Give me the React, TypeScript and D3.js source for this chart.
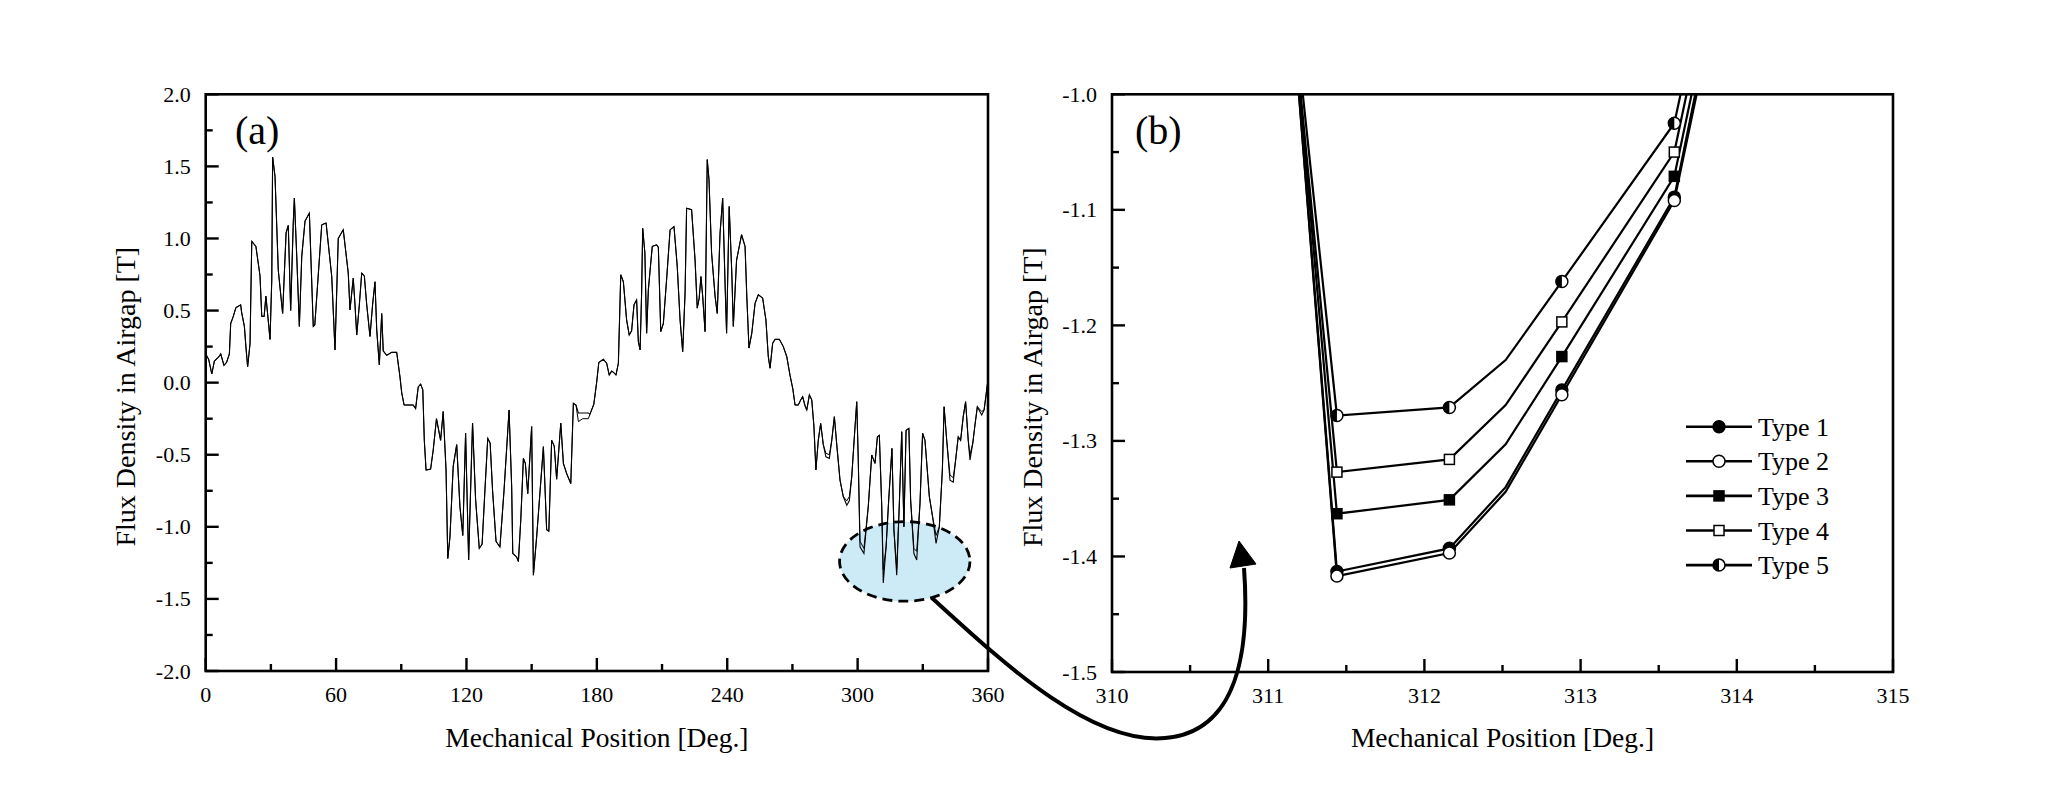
import React from 'react';
import * as d3 from 'd3';

// ── Data: panel (a) full-period waveform (all types overlap) ────────────────
const waveDeg = [
  0, 1.4, 2.8, 4.0, 6.1, 6.9, 8.4, 9.6, 10.9, 11.5, 12.7, 13.9, 16.1, 16.5, 17.8, 18.5, 19.3, 20.4,
  21.2, 23.1, 25.0, 25.8, 26.9, 27.7, 28.6, 29.6, 30.4, 30.8, 31.9, 33.4, 35.4, 37.0, 38.0, 39.1,
  40.3, 40.8, 41.9, 43.1, 44.2, 45.7, 47.7, 49.5, 50.2, 53.4, 55.4, 58.0, 59.5, 61.0, 63.3, 65.6,
  66.4, 67.9, 68.7, 69.5, 70.7, 71.8, 73.0, 74.1, 75.6, 76.8, 77.9, 78.7, 79.9, 81.0, 81.7, 83.3,
  85.6, 87.9, 89.4, 90.2, 91.3, 95.5, 96.6, 97.8, 98.9, 99.9, 100.6, 101.4, 103.5, 104.7, 106.2,
  108.1, 109.3, 110.6, 111.4, 112.4, 113.9, 115.5, 117.0, 118.3, 119.6, 120.4, 121.0, 121.9, 122.8,
  124.2, 125.9, 127.2, 128.5, 129.8, 130.9, 132.0, 133.6, 135.4, 137.3, 139.6, 140.8, 141.3, 143.1,
  143.9, 145.0, 146.2, 147.1, 148.2, 149.2, 150.0, 150.8, 152.3, 155.4, 156.9, 157.9, 159.2, 160.4,
  161.5, 163.4, 164.6, 166.1, 168.0, 169.2, 170.4, 171.5, 173.5, 176.1, 176.8, 178.6, 179.9, 180.9,
  183.0, 184.5, 185.7, 186.8, 187.8, 188.8, 189.9, 191.0, 192.2, 193.7, 194.9, 196.0, 197.1, 198.3,
  199.1, 199.9, 200.6, 201.1, 202.1, 202.9, 203.7, 205.5, 207.5, 208.3, 209.4, 210.6, 212.2, 213.7,
  215.5, 217.0, 218.3, 219.5, 220.6, 221.3, 223.6, 225.2, 226.2, 227.1, 227.9, 228.7, 229.8, 230.8,
  231.6, 232.8, 234.4, 235.4, 236.7, 237.9, 239.0, 239.7, 240.9, 242.1, 242.8, 244.3, 246.6, 248.2,
  249.0, 250.0, 251.3, 252.8, 254.3, 256.3, 257.8, 258.9, 259.7, 260.9, 262.0, 264.0, 265.8, 267.4,
  268.9, 270.2, 271.2, 272.7, 273.8, 274.7, 275.8, 276.6, 277.8, 278.9, 279.9, 280.8, 281.9, 283.0,
  284.2, 285.4, 287.0, 288.1, 289.3, 290.4, 291.9, 293.4, 295.0, 296.2, 297.3, 298.5, 299.6, 300.3,
  301.1, 302.9, 304.9, 306.5, 308.0, 309.1, 310.0, 311.1, 311.8, 313.1, 314.3, 315.8, 316.7, 318.0,
  319.2, 320.3, 321.3, 322.3, 323.6, 324.4, 325.9, 327.2, 328.7, 329.9, 331.0, 333.0, 334.5, 336.1,
  337.6, 339.0, 339.8, 341.0, 342.5, 344.0, 345.1, 346.3, 347.4, 348.6, 349.7, 350.9, 351.7, 353.0,
  354.0, 355.1, 357.1, 358.2, 359.4, 360.0,
];
const waveVal = [
  0.20, 0.16, 0.06, 0.15, 0.18, 0.20, 0.12, 0.14, 0.20, 0.41, 0.46, 0.52, 0.54, 0.49, 0.39, 0.25, 0.11, 0.27,
  0.98, 0.945, 0.74, 0.46, 0.46, 0.60, 0.46, 0.30, 0.71, 1.565, 1.43, 0.78, 0.48, 1.04, 1.09, 0.50,
  1.11, 1.28, 0.875, 0.39, 0.875, 1.12, 1.176, 0.39, 0.40, 1.095, 1.107, 0.736, 0.227, 1.0, 1.06, 0.76,
  0.505, 0.725, 0.54, 0.33, 0.54, 0.76, 0.74, 0.54, 0.32, 0.54, 0.70, 0.366, 0.123, 0.48, 0.22, 0.19,
  0.21, 0.21, 0.04, -0.07, -0.155, -0.155, -0.18, -0.03, -0.01, -0.05, -0.40, -0.606, -0.60, -0.467, -0.25,
  -0.40, -0.20, -0.606, -1.22, -1.07, -0.58, -0.43, -0.86, -1.06, -0.35, -0.86, -1.23, -0.745, -0.28,
  -0.81, -1.15, -1.12, -0.745, -0.386, -0.42, -0.745, -1.10, -1.14, -0.745, -0.19, -0.72, -1.185, -1.21,
  -1.24, -0.95, -0.525, -0.56, -0.77, -0.51, -0.305, -1.335, -1.07, -0.444, -1.02, -1.03, -0.40, -0.44,
  -0.67, -0.28, -0.56, -0.63, -0.70, -0.143, -0.155, -0.21, -0.21, -0.21, -0.22, -0.15, 0.0, 0.14,
  0.162, 0.135, 0.053, 0.08, 0.07, 0.053, 0.135, 0.748, 0.70, 0.435, 0.33, 0.36, 0.54, 0.574,
  0.285, 0.227, 0.62, 1.07, 0.90, 0.343, 0.644, 0.945, 0.956, 0.94, 0.354, 0.41, 0.736, 1.06,
  1.083, 0.805, 0.435, 0.215, 0.62, 1.21, 1.20, 0.85, 0.517, 0.586, 0.736, 0.60, 0.354, 1.547,
  1.41, 0.90, 0.60, 0.48, 1.037, 1.28, 0.69, 0.343, 1.222, 0.76, 0.39, 0.85, 1.026, 0.945,
  0.60, 0.24, 0.343, 0.55, 0.61, 0.586, 0.435, 0.18, 0.10, 0.273, 0.30, 0.30, 0.25, 0.18,
  0.05, -0.045, -0.155, -0.155, -0.12, -0.097, -0.16, -0.19, -0.085, -0.12, -0.305, -0.606, -0.40, -0.283,
  -0.43, -0.514, -0.525, -0.40, -0.236, -0.43, -0.676, -0.79, -0.85, -0.82, -0.653, -0.375, -0.132, -0.537,
  -1.139, -1.185, -0.86, -0.502, -0.56, -0.375, -0.365, -0.86, -1.39, -1.14, -0.815, -0.456, -1.02, -1.335,
  -0.84, -0.34, -1.0, -0.33, -0.317, -0.815, -1.185, -1.23, -0.84, -0.35, -0.40, -0.79, -0.93, -1.115,
  -1.0, -0.606, -0.167, -0.40, -0.676, -0.69, -0.537, -0.375, -0.40, -0.236, -0.132, -0.40, -0.537, -0.42,
  -0.294, -0.167, -0.224, -0.19, -0.05, 0.02,
];
// places where the other types split visibly from the main trace
const altDeg = [171.5, 173.5, 176.1, 285.4, 287.0, 295.0, 296.2, 301.1, 302.9, 311.8, 318.0, 325.9, 327.2, 336.1, 342.5, 344.0, 351.7, 357.1];
const altVal = [-0.27, -0.25, -0.25, -0.49, -0.50, -0.82, -0.79, -1.10, -1.15, -1.30, -1.29, -1.15, -1.17, -1.06, -0.64, -0.66, -0.50, -0.20];

// ── Data: panel (b) zoom ────────────────────────────────────────────────────
const zoomDeg = [311.08, 311.44, 312.16, 312.52, 312.88, 313.60, 313.96];
const markerIdx = [1, 2, 4, 5];
const type1 = [-0.80, -1.413, -1.393, -1.340, -1.256, -1.089, -0.85];
const type2 = [-0.80, -1.417, -1.397, -1.344, -1.260, -1.092, -0.86];
const type3 = [-0.81, -1.363, -1.351, -1.303, -1.227, -1.071, -0.84];
const type4 = [-0.82, -1.327, -1.316, -1.269, -1.197, -1.050, -0.82];
const type5 = [-0.82, -1.278, -1.271, -1.230, -1.162, -1.025, -0.80];
const typeNames = ['Type 1', 'Type 2', 'Type 3', 'Type 4', 'Type 5'];
const typeMarkers = ['filledCircle', 'openCircle', 'filledSquare', 'openSquare', 'halfCircle'];

// ── Ticks ───────────────────────────────────────────────────────────────────
const aXMajor = [0, 60, 120, 180, 240, 300, 360];
const aXMinor = [30, 90, 150, 210, 270, 330];
const aYMajor = [-2.0, -1.5, -1.0, -0.5, 0.0, 0.5, 1.0, 1.5, 2.0];
const aYMinor = [-1.75, -1.25, -0.75, -0.25, 0.25, 0.75, 1.25, 1.75];
const bXMajor = [310, 311, 312, 313, 314, 315];
const bXMinor = [310.5, 311.5, 312.5, 313.5, 314.5];
const bYMajor = [-1.5, -1.4, -1.3, -1.2, -1.1, -1.0];
const bYMinor = [-1.45, -1.35, -1.25, -1.15, -1.05];

const FONT = "'Liberation Serif', 'Times New Roman', serif";
const W = 2053, H = 807;

const PA = { left: 205.7, right: 988, top: 94.3, bottom: 671 };
const PB = { left: 1112, right: 1893, top: 94.3, bottom: 672 };

const xA = d3.scaleLinear().domain([0, 360]).range([PA.left, PA.right]);
const yA = d3.scaleLinear().domain([-2, 2]).range([PA.bottom, PA.top]);
const xB = d3.scaleLinear().domain([310, 315]).range([PB.left, PB.right]);
const yB = d3.scaleLinear().domain([-1.5, -1.0]).range([PB.bottom, PB.top]);

function Marker({ kind, cx, cy }: { kind: string; cx: number; cy: number }) {
  const r = 6, s = 10;
  switch (kind) {
    case 'filledCircle':
      return <circle cx={cx} cy={cy} r={r} fill="#000" stroke="#000" strokeWidth={1.5} />;
    case 'openCircle':
      return <circle cx={cx} cy={cy} r={r} fill="#fff" stroke="#000" strokeWidth={1.5} />;
    case 'filledSquare':
      return <rect x={cx - s / 2} y={cy - s / 2} width={s} height={s} fill="#000" stroke="#000" strokeWidth={1.5} />;
    case 'openSquare':
      return <rect x={cx - s / 2} y={cy - s / 2} width={s} height={s} fill="#fff" stroke="#000" strokeWidth={1.5} />;
    default:
      return (
        <g>
          <circle cx={cx} cy={cy} r={r} fill="#fff" stroke="#000" strokeWidth={1.5} />
          <path d={`M${cx},${cy - r} A${r},${r} 0 0 0 ${cx},${cy + r} Z`} fill="#000" />
        </g>
      );
  }
}

function Frame({ p, xs, ys, xMajor, xMinor, yMajor, yMinor, fmtX, fmtY }: any) {
  return (
    <g>
      <rect x={p.left} y={p.top} width={p.right - p.left} height={p.bottom - p.top} fill="none" stroke="#000" strokeWidth={2.6} />
      {xMajor.map((t: number) => (
        <g key={'xm' + t}>
          <line x1={xs(t)} x2={xs(t)} y1={p.bottom} y2={p.bottom - 13} stroke="#000" strokeWidth={2.4} />
          <text x={xs(t)} y={p.bottom + 31} textAnchor="middle" fontSize={22} fontFamily={FONT}>{fmtX(t)}</text>
        </g>
      ))}
      {xMinor.map((t: number) => (
        <line key={'xn' + t} x1={xs(t)} x2={xs(t)} y1={p.bottom} y2={p.bottom - 7} stroke="#000" strokeWidth={2.4} />
      ))}
      {yMajor.map((t: number) => (
        <g key={'ym' + t}>
          <line x1={p.left} x2={p.left + 13} y1={ys(t)} y2={ys(t)} stroke="#000" strokeWidth={2.4} />
          <text x={p.left - 15} y={ys(t) + 7.5} textAnchor="end" fontSize={22} fontFamily={FONT}>{fmtY(t)}</text>
        </g>
      ))}
      {yMinor.map((t: number) => (
        <line key={'yn' + t} x1={p.left} x2={p.left + 7} y1={ys(t)} y2={ys(t)} stroke="#000" strokeWidth={2.4} />
      ))}
    </g>
  );
}

export default function App() {
  const baseA = waveDeg.map((d, i) => [d, waveVal[i]] as [number, number]);
  const altA = waveDeg.map((d, i) => {
    const k = altDeg.indexOf(d);
    return [d, k >= 0 ? altVal[k] : waveVal[i]] as [number, number];
  });
  const lineA = d3.line<[number, number]>().x(d => xA(d[0])).y(d => yA(d[1]));

  const typeVals = [type1, type2, type3, type4, type5];
  const lineB = d3.line<number>().x((_, i) => xB(zoomDeg[i])).y(v => yB(v));

  const fmt1 = d3.format('.1f');
  const fmtY = (t: number) => fmt1(t).replace('−', '-');

  // annotation ellipse in panel (a) data space
  const ellCx = xA(321.7), ellCy = yA(-1.24);
  const ellRx = xA(30) - xA(0), ellRy = yA(0) - yA(0.276);

  // legend layout
  const legX1 = 1686, legX2 = 1752, legRow0 = 426.7, legStep = 34.6;

  return (
    <svg width={W} height={H} style={{ position: 'absolute', left: 0, top: 0, background: '#fff' }}>
      <defs>
        <clipPath id="clipB">
          <rect x={PB.left} y={PB.top} width={PB.right - PB.left} height={PB.bottom - PB.top} />
        </clipPath>
      </defs>
      <rect width={W} height={H} fill="#fff" />

      {/* ── Panel (a) ── */}
      <ellipse cx={ellCx} cy={ellCy} rx={ellRx} ry={ellRy} fill="#cdebf7" />
      <path d={lineA(altA) || ''} fill="none" stroke="#000" strokeWidth={1} />
      <path d={lineA(baseA) || ''} fill="none" stroke="#000" strokeWidth={1.1} />
      <ellipse cx={ellCx} cy={ellCy} rx={ellRx} ry={ellRy} fill="none" stroke="#000" strokeWidth={2.8} strokeDasharray="10 6" />
      <Frame p={PA} xs={xA} ys={yA} xMajor={aXMajor} xMinor={aXMinor} yMajor={aYMajor} yMinor={aYMinor}
        fmtX={(t: number) => String(t)} fmtY={fmtY} />
      <text x={235} y={144} fontSize={40} fontFamily={FONT}>(a)</text>
      <text x={(PA.left + PA.right) / 2} y={747} textAnchor="middle" fontSize={27.5} fontFamily={FONT}>Mechanical Position [Deg.]</text>
      <text transform={`translate(135,${(PA.top + PA.bottom) / 2 + 14}) rotate(-90)`} textAnchor="middle" fontSize={28} fontFamily={FONT}>Flux Density in Airgap [T]</text>

      {/* ── Panel (b) ── */}
      <g clipPath="url(#clipB)">
        {typeVals.map((vals, k) => (
          <g key={k}>
            <path d={lineB(vals) || ''} fill="none" stroke="#000" strokeWidth={2.2} />
            {markerIdx.map(i => (
              <Marker key={i} kind={typeMarkers[k]} cx={xB(zoomDeg[i])} cy={yB(vals[i])} />
            ))}
          </g>
        ))}
      </g>
      <Frame p={PB} xs={xB} ys={yB} xMajor={bXMajor} xMinor={bXMinor} yMajor={bYMajor} yMinor={bYMinor}
        fmtX={(t: number) => String(t)} fmtY={fmtY} />
      <text x={1135} y={144} fontSize={40} fontFamily={FONT}>(b)</text>
      <text x={(PB.left + PB.right) / 2} y={747} textAnchor="middle" fontSize={27.5} fontFamily={FONT}>Mechanical Position [Deg.]</text>
      <text transform={`translate(1042,${(PB.top + PB.bottom) / 2 + 14}) rotate(-90)`} textAnchor="middle" fontSize={28} fontFamily={FONT}>Flux Density in Airgap [T]</text>

      {/* legend */}
      {typeNames.map((name, k) => {
        const y = legRow0 + k * legStep;
        return (
          <g key={name}>
            <line x1={legX1} x2={legX2} y1={y} y2={y} stroke="#000" strokeWidth={2.6} />
            <Marker kind={typeMarkers[k]} cx={(legX1 + legX2) / 2} cy={y} />
            <text x={1758} y={y + 9} fontSize={26} fontFamily={FONT}>{name}</text>
          </g>
        );
      })}

      {/* ── Connecting arrow ── */}
      <path d="M932,598 C1000,660 1090,745 1165,738 C1238,732 1250,650 1244,568" fill="none" stroke="#000" strokeWidth={4} />
      <path d="M1230,568 L1239,541 L1256,564 Z" fill="#000" stroke="#000" strokeWidth={1} />
    </svg>
  );
}
